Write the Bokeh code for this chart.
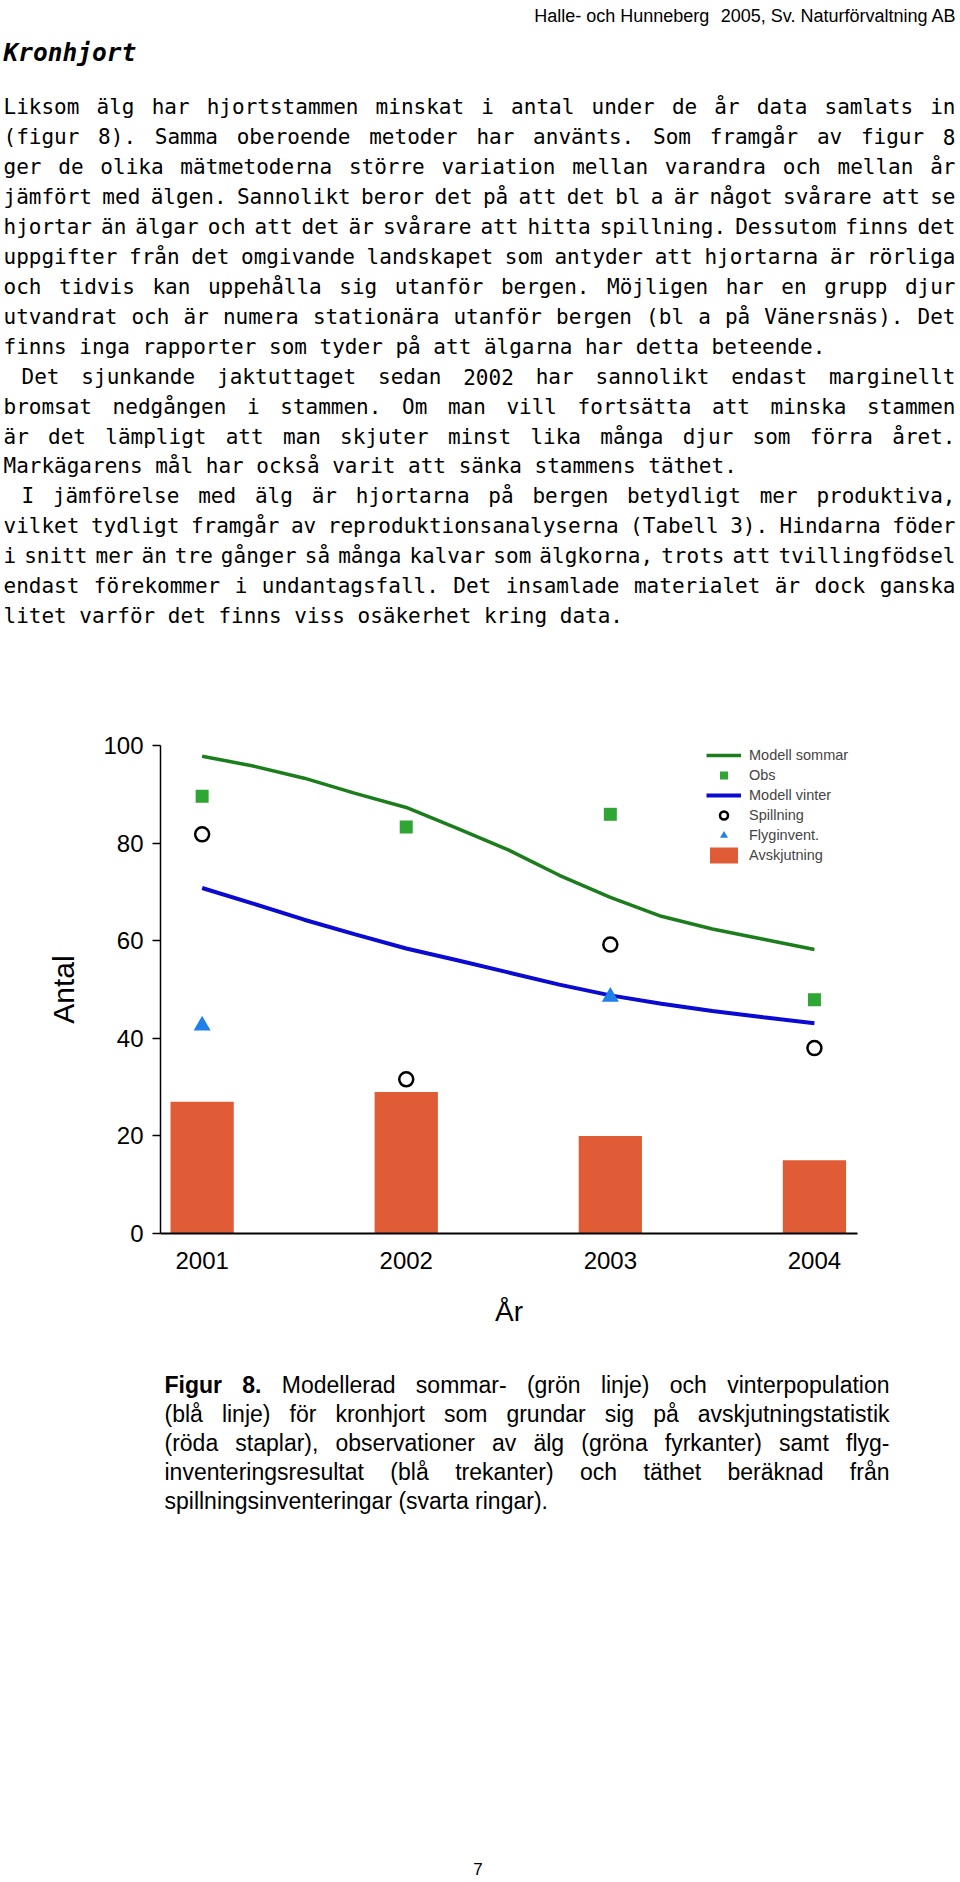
from bokeh.plotting import figure
from bokeh.models import ColumnDataSource, Range1d, FixedTicker, Legend, LegendItem
from bokeh.layouts import column
from bokeh.core.properties import value
from bokeh.embed import file_html
from bokeh.resources import INLINE

# ---------------- data ----------------
years = [2001, 2002, 2003, 2004]
year_labels = ["2001", "2002", "2003", "2004"]
avskjutning = [27, 29, 20, 15]
obs = [89.6, 83.3, 85.9, 47.9]
spillning = [81.8, 31.6, 59.2, 38.0]
flyg_years = [2001, 2003]
flyginvent = [42.6, 48.5]
model_x = [2001.0, 2001.25, 2001.5, 2001.75, 2002.0, 2002.25, 2002.5,
           2002.75, 2003.0, 2003.25, 2003.5, 2003.75, 2004.0]
modell_sommar = [97.8, 95.8, 93.3, 90.2, 87.3, 83.0, 78.6, 73.4, 68.9,
                 65.0, 62.4, 60.3, 58.2]
modell_vinter = [70.8, 67.6, 64.3, 61.3, 58.4, 56.0, 53.5, 51.0, 48.8,
                 47.1, 45.6, 44.3, 43.1]
y_ticks = [0, 20, 40, 60, 80, 100]

legend_labels = ["Modell sommar", "Obs", "Modell vinter", "Spillning",
                 "Flyginvent.", "Avskjutning"]

header_left = "Halle- och Hunneberg"
header_right = "2005, Sv. Naturförvaltning AB"
title = "Kronhjort"

para1 = [
    "Liksom älg har hjortstammen minskat i antal under de år data samlats in",
    "(figur 8). Samma oberoende metoder har använts. Som framgår av figur 8",
    "ger de olika mätmetoderna större variation mellan varandra och mellan år",
    "jämfört med älgen. Sannolikt beror det på att det bl a är något svårare att se",
    "hjortar än älgar och att det är svårare att hitta spillning. Dessutom finns det",
    "uppgifter från det omgivande landskapet som antyder att hjortarna är rörliga",
    "och tidvis kan uppehålla sig utanför bergen. Möjligen har en grupp djur",
    "utvandrat och är numera stationära utanför bergen (bl a på Vänersnäs). Det",
    "finns inga rapporter som tyder på att älgarna har detta beteende.",
]
para2 = [
    "Det sjunkande jaktuttaget sedan 2002 har sannolikt endast marginellt",
    "bromsat nedgången i stammen. Om man vill fortsätta att minska stammen",
    "är det lämpligt att man skjuter minst lika många djur som förra året.",
    "Markägarens mål har också varit att sänka stammens täthet.",
]
para3 = [
    "I jämförelse med älg är hjortarna på bergen betydligt mer produktiva,",
    "vilket tydligt framgår av reproduktionsanalyserna (Tabell 3). Hindarna föder",
    "i snitt mer än tre gånger så många kalvar som älgkorna, trots att tvillingfödsel",
    "endast förekommer i undantagsfall. Det insamlade materialet är dock ganska",
    "litet varför det finns viss osäkerhet kring data.",
]
caption_bold = ["Figur", "8."]
caption_lines = [
    "Modellerad sommar- (grön linje) och vinterpopulation",
    "(blå linje) för kronhjort som grundar sig på avskjutningstatistik",
    "(röda staplar),  observationer av älg (gröna fyrkanter) samt flyg-",
    "inventeringsresultat (blå trekanter) och täthet beräknad från",
    "spillningsinventeringar (svarta ringar).",
]
page_number = "7"

# ---------------- layout helpers ----------------
W = 960
MONO = "DejaVu Sans Mono"
SANS = "Liberation Sans"

ARIAL = {' ': 278, '(': 333, ')': 333, ',': 278, '-': 333, '.': 278,
         'M': 833, 'F': 611, 'I': 278, 'T': 611, 'H': 722, 'N': 722,
         'S': 667, 'A': 667, 'B': 667}
for ch, w in dict(a=556, b=556, c=500, d=556, e=556, f=278, g=556, h=556,
                  i=222, j=222, k=500, l=222, m=833, n=556, o=556, p=556,
                  q=556, r=333, s=500, t=278, u=556, v=500, w=722, x=500,
                  y=500, z=500).items():
    ARIAL[ch] = w
for ch in "åäöé":
    ARIAL[ch] = 556
ARIAL_BOLD = {'F': 611, 'i': 278, 'g': 611, 'u': 611, 'r': 389, '8': 556,
              '.': 278, ' ': 278}


def arial_width(word, size, table=ARIAL):
    return sum(table.get(c, 556) for c in word) * size / 1000.0


def place(widths, x0, x1, justify, natural_gap):
    total = sum(widths)
    n = len(widths)
    gap = (x1 - x0 - total) / (n - 1) if (justify and n > 1) else natural_gap
    xs, x = [], x0
    for w in widths:
        xs.append(x)
        x += w + gap
    return xs


def text_fig(h):
    f = figure(width=W, height=h, x_range=Range1d(0, W), y_range=Range1d(h, 0),
               x_axis_type=None, y_axis_type=None, output_backend="svg",
               toolbar_location=None, min_border=0, frame_align=False)
    f.outline_line_color = None
    f.grid.visible = False
    return f


# ---------------- top text figure ----------------
HA = 680
pa = text_fig(HA)

HEAD_FS = 18
right_w = arial_width(header_right, HEAD_FS)
pa.text(x=[956, 956 - right_w - 2 * ARIAL[' '] * HEAD_FS / 1000],
        y=[15, 15], text=[header_right, header_left],
        text_font=value(SANS), text_font_size="18px", text_align="right",
        text_baseline="alphabetic", text_color="black")

pa.text(x=[3], y=[52], text=[title], text_font=value(MONO),
        text_font_size="24.5px", text_font_style="bold italic",
        text_align="left", text_baseline="alphabetic", text_color="black")

BODY_FS = 21
adv = 0.60205 * BODY_FS
bx, by, bt = [], [], []
k = 0
for pi, para in enumerate([para1, para2, para3]):
    for li, line in enumerate(para):
        words = line.split()
        widths = [len(w) * adv for w in words]
        x0 = 3 + (18 if (pi > 0 and li == 0) else 0)
        last = li == len(para) - 1
        xs = place(widths, x0, 955, not last, adv)
        yb = 106.8 + 29.93 * k
        for w, x in zip(words, xs):
            bx.append(x)
            by.append(yb)
            bt.append(w)
        k += 1
pa.text(x="x", y="y", text="t", source=ColumnDataSource(dict(x=bx, y=by, t=bt)),
        text_font=value(MONO), text_font_size="21px", text_align="left",
        text_baseline="alphabetic", text_color="black")

# ---------------- chart figure ----------------
pb = figure(width=W, height=670, x_range=Range1d(2000.796, 2004.211),
            y_range=Range1d(0, 100), output_backend="svg",
            toolbar_location=None, min_border_left=160, min_border_right=103,
            min_border_top=65, min_border_bottom=117, frame_align=False)
pb.outline_line_color = None
pb.grid.visible = False

r_bar = pb.vbar(x=years, top=avskjutning, width=0.31, fill_color="#E05C36",
                line_color=None)
r_som = pb.line(model_x, modell_sommar, line_color="#1B7D1B", line_width=3.5)
r_vin = pb.line(model_x, modell_vinter, line_color="#0A0AD0", line_width=4)
r_obs = pb.scatter(years, obs, marker="square", size=13, fill_color="#2FA534",
                   line_color=None)
r_spi = pb.scatter(years, spillning, marker="circle", size=14, fill_color=None,
                   line_color="black", line_width=2.5)
r_fly = pb.scatter(flyg_years, flyginvent, marker="triangle", size=17,
                   fill_color="#1E80E8", line_color=None)

legend = Legend(items=[
    LegendItem(label=legend_labels[0], renderers=[r_som]),
    LegendItem(label=legend_labels[1], renderers=[r_obs]),
    LegendItem(label=legend_labels[2], renderers=[r_vin]),
    LegendItem(label=legend_labels[3], renderers=[r_spi]),
    LegendItem(label=legend_labels[4], renderers=[r_fly]),
    LegendItem(label=legend_labels[5], renderers=[r_bar]),
], location=(546, 368), glyph_width=35, glyph_height=20, label_height=20,
    spacing=0, padding=0, margin=0, label_standoff=8,
    label_text_font=SANS, label_text_font_size="14.5px",
    background_fill_alpha=0, border_line_color=None)
pb.add_layout(legend)

xa = pb.xaxis[0]
xa.ticker = FixedTicker(ticks=years)
xa.major_label_overrides = {y: s for y, s in zip(years, year_labels)}
xa.major_tick_out = 0
xa.major_tick_in = 0
xa.major_tick_line_color = None
xa.minor_tick_line_color = None
xa.axis_line_width = 2
xa.axis_line_color = "black"
xa.major_label_standoff = 18
xa.major_label_text_font = SANS
xa.major_label_text_font_size = "24px"
xa.major_label_text_color = "black"
xa.axis_label = "År"
xa.axis_label_text_font = SANS
xa.axis_label_text_font_size = "28px"
xa.axis_label_text_font_style = "normal"
xa.axis_label_text_color = "black"
xa.axis_label_standoff = 24

ya = pb.yaxis[0]
ya.ticker = FixedTicker(ticks=y_ticks)
ya.major_tick_out = 8
ya.major_tick_in = 0
ya.major_tick_line_width = 1.5
ya.major_tick_line_color = "black"
ya.minor_tick_line_color = None
ya.axis_line_width = 1.5
ya.axis_line_color = "black"
ya.major_label_standoff = 9
ya.major_label_text_font = SANS
ya.major_label_text_font_size = "24px"
ya.major_label_text_color = "black"
ya.axis_label = "Antal"
ya.axis_label_text_font = SANS
ya.axis_label_text_font_size = "30px"
ya.axis_label_text_font_style = "normal"
ya.axis_label_text_color = "black"
ya.axis_label_standoff = 20

# ---------------- caption figure ----------------
HC = 532
pc = text_fig(HC)
CAP_FS = 23
cx0, cx1 = 164, 889
nx, ny, nt = [], [], []
bxs, bys, bts = [], [], []
for li, line in enumerate(caption_lines):
    words = line.split()
    widths = [arial_width(w, CAP_FS) for w in words]
    bold = caption_bold if li == 0 else []
    bwidths = [arial_width(w, CAP_FS, ARIAL_BOLD) for w in bold]
    last = li == len(caption_lines) - 1
    xs = place(bwidths + widths, cx0, cx1, not last, ARIAL[' '] * CAP_FS / 1000)
    yb = 34 + 29 * li
    for i, x in enumerate(xs):
        if i < len(bold):
            bxs.append(x); bys.append(yb); bts.append(bold[i])
        else:
            nx.append(x); ny.append(yb); nt.append(words[i - len(bold)])
pc.text(x="x", y="y", text="t", source=ColumnDataSource(dict(x=nx, y=ny, t=nt)),
        text_font=value(SANS), text_font_size="23px", text_align="left",
        text_baseline="alphabetic", text_color="black")
pc.text(x="x", y="y", text="t", source=ColumnDataSource(dict(x=bxs, y=bys, t=bts)),
        text_font=value(SANS), text_font_size="23px", text_font_style="bold",
        text_align="left", text_baseline="alphabetic", text_color="black")
pc.text(x=[477.5], y=[518], text=[page_number], text_font=value(SANS),
        text_font_size="17px", text_align="center", text_baseline="alphabetic",
        text_color="black")

layout = column(pa, pb, pc, spacing=0)
open("out.html", "w").write(file_html(layout, INLINE))
